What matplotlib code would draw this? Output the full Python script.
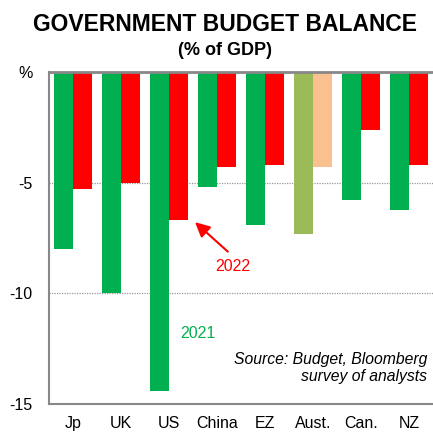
import matplotlib.pyplot as plt
import numpy as np

plt.rcParams['font.family'] = ['Liberation Sans', 'DejaVu Sans']

countries = ["Jp", "UK", "US", "China", "EZ", "Aust.", "Can.", "NZ"]
bal_2021 = [-8.0, -10.0, -14.4, -5.2, -6.9, -7.3, -5.8, -6.25]
bal_2022 = [-5.3, -5.0, -6.7, -4.3, -4.2, -4.3, -2.6, -4.2]

green = ["#00B050"] * 8
red = ["#FF0000"] * 8
green[5] = "#9BBB59"   # Australia shown in muted colours
red[5] = "#FAC090"

fig = plt.figure(figsize=(4.33, 4.32), dpi=100)
ax = fig.add_axes([0.113, 0.065, 0.887, 0.768])

x = np.arange(len(countries))
w = 0.4
ax.bar(x - w / 2, bal_2021, width=w, color=green, zorder=3)
ax.bar(x + w / 2, bal_2022, width=w, color=red, zorder=3)

ax.set_xlim(-0.5, len(countries) - 0.5)
ax.set_ylim(-15, 0)
ax.set_yticks([0, -5, -10, -15])
ax.set_yticklabels(["%", "-5", "-10", "-15"])
ax.set_xticks(x)
ax.set_xticklabels(countries)
ax.tick_params(axis="both", length=0, labelsize=11.5)
ax.tick_params(axis="y", pad=12)
ax.tick_params(axis="x", pad=9)

for y in [-5, -10]:
    ax.axhline(y, color="#999999", lw=0.9, ls=(0, (1, 1)), zorder=1)

for side in ["left", "top", "bottom"]:
    ax.spines[side].set_color("#888888")
ax.spines["left"].set_linewidth(1.5)
ax.spines["bottom"].set_linewidth(1.5)
ax.spines["top"].set_linewidth(2)
ax.spines["top"].set_zorder(4)
ax.spines["right"].set_visible(False)

ax.annotate("", xy=(2.5, -6.7), xytext=(3.27, -8.2),
            arrowprops=dict(arrowstyle="-|>", color="#FF0000", lw=1.5,
                            mutation_scale=22))
ax.text(3.33, -8.8, "2022", color="#FF0000", fontsize=11.5, ha="center", va="center")
ax.text(2.6, -11.8, "2021", color="#00B050", fontsize=11.5, ha="center", va="center")

ax.text(0.985, 0.108, "Source: Budget, Bloomberg\nsurvey of analysts",
        transform=ax.transAxes, ha="right", va="center", fontsize=11.3,
        style="italic", linespacing=1.15)

fig.text(0.52, 0.944, "GOVERNMENT BUDGET BALANCE", ha="center", va="center",
         fontsize=16.5, fontweight="bold")
fig.text(0.52, 0.882, "(% of GDP)", ha="center", va="center",
         fontsize=13, fontweight="bold")

fig.savefig("out.png", dpi=100)
